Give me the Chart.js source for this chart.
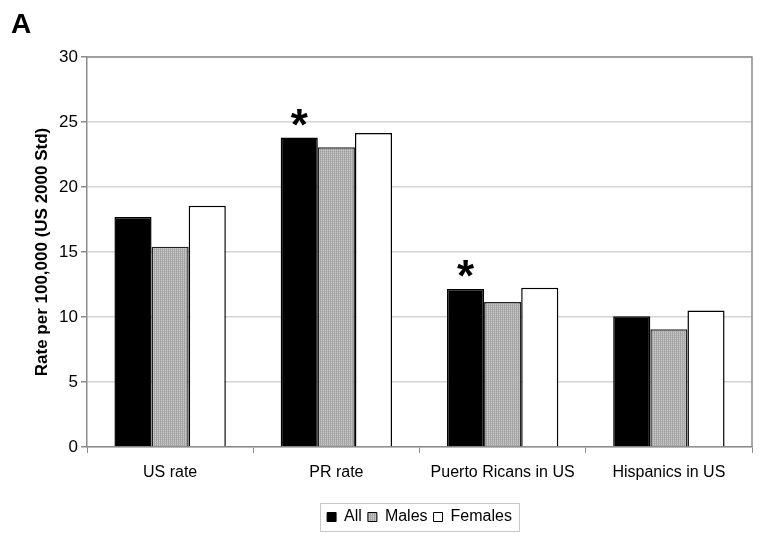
<!DOCTYPE html>
<html>
<head>
<meta charset="utf-8">
<script src="https://cdn.jsdelivr.net/npm/chart.js@4/dist/chart.umd.min.js"></script>
<style>
  html, body { margin: 0; padding: 0; background: #fff; }
  #wrap { width: 764px; height: 543px; position: relative; }
</style>
</head>
<body>
<div id="wrap"><canvas id="grafico" width="764" height="543"></canvas></div>
<script>
// dados
const categorias = ["US rate", "PR rate", "Puerto Ricans in US", "Hispanics in US"];
const taxaTodos    = [17.7, 23.8, 12.15, 10.05];
const taxaHomens   = [15.4, 23.05, 11.15, 9.05];
const taxaMulheres = [18.55, 24.15, 12.25, 10.5];
const significativo = [false, true, true, false];   // asterisco sobre "All"
const ticksY = [0, 5, 10, 15, 20, 25, 30];

const FONTE = "'Liberation Sans', Arial, sans-serif";
const COR_EIXO = "#8c8c8c";
const COR_GRADE = "#d4d4d4";

// textura cinza pontilhada das barras "Males"
function padraoCinza() {
  const c = document.createElement("canvas");
  c.width = 2; c.height = 2;
  const g = c.getContext("2d");
  g.fillStyle = "#cbcbcb"; g.fillRect(0, 0, 2, 2);
  g.fillStyle = "#a4a4a4"; g.fillRect(0, 0, 1, 2);
  g.fillStyle = "#b4b4b4"; g.fillRect(1, 1, 1, 1);
  return g.createPattern(c, "repeat");
}
const ctx = document.getElementById("grafico").getContext("2d");
const COR_HOMENS = padraoCinza();

const extras = {
  id: "extras",
  afterDraw(chart) {
    const { ctx, chartArea: a } = chart;
    ctx.save();
    // moldura superior/direita
    ctx.strokeStyle = COR_EIXO;
    ctx.lineWidth = 1.5;
    ctx.beginPath();
    ctx.moveTo(a.left, a.top);
    ctx.lineTo(a.right, a.top);
    ctx.lineTo(a.right, a.bottom);
    ctx.stroke();

    // asteriscos
    const meta = chart.getDatasetMeta(0);
    ctx.fillStyle = "#000";
    ctx.font = "bold 44px " + FONTE;
    ctx.textAlign = "center";
    ctx.textBaseline = "alphabetic";
    meta.data.forEach((bar, i) => {
      if (significativo[i]) ctx.fillText("*", bar.x, bar.y + 2);
    });

    // borda da legenda, só em volta dos itens
    const caixas = chart.legend.legendHitBoxes;
    if (caixas && caixas.length) {
      const x0 = Math.min(...caixas.map(b => b.left)) - 7;
      const x1 = Math.max(...caixas.map(b => b.left + b.width)) + 7;
      const yc = caixas[0].top + caixas[0].height / 2;
      ctx.lineWidth = 1;
      ctx.strokeStyle = "#c8c8c8";
      ctx.strokeRect(Math.round(x0) + 0.5, Math.round(yc - 14) + 0.5, Math.round(x1 - x0), 28);
    }

    // letra do painel
    ctx.font = "bold 28px " + FONTE;
    ctx.textAlign = "left";
    ctx.fillText("A", 11, 33);
    ctx.restore();
  }
};

new Chart(ctx, {
  type: "bar",
  data: {
    labels: categorias,
    datasets: [
      { label: "All", data: taxaTodos, backgroundColor: "#000", borderColor: "#000", borderWidth: 1.5 },
      { label: "Males", data: taxaHomens, backgroundColor: COR_HOMENS, borderColor: "#222", borderWidth: 1.5 },
      { label: "Females", data: taxaMulheres, backgroundColor: "#fff", borderColor: "#000", borderWidth: 1.5 }
    ]
  },
  options: {
    responsive: false,
    animation: false,
    layout: { padding: { top: 57, right: 12, left: 0, bottom: 8 } },
    datasets: { bar: { categoryPercentage: 0.67, barPercentage: 1.0 } },
    plugins: {
      tooltip: { enabled: false },
      legend: {
        position: "bottom",
        fullSize: false,
        labels: {
          font: { family: FONTE, size: 16 },
          color: "#000",
          boxWidth: 9,
          boxHeight: 9,
          padding: 6,
          generateLabels(chart) {
            return chart.data.datasets.map((d, i) => ({
              text: d.label,
              fillStyle: d.backgroundColor,
              strokeStyle: "#000",
              lineWidth: 1,
              datasetIndex: i
            }));
          }
        }
      }
    },
    scales: {
      x: {
        grid: { display: true, drawOnChartArea: false, offset: true, tickLength: 6, color: COR_EIXO },
        border: { color: COR_EIXO, width: 1.5 },
        ticks: { font: { family: FONTE, size: 16 }, color: "#000", padding: 10, maxRotation: 0 },
        afterFit: s => { s.height = 56; }
      },
      y: {
        min: 0,
        max: 30,
        afterBuildTicks: s => { s.ticks = ticksY.map(v => ({ value: v })); },
        grid: { color: COR_GRADE, lineWidth: 1.5, tickLength: 6, tickColor: COR_EIXO },
        border: { color: COR_EIXO, width: 1.5 },
        ticks: { font: { family: FONTE, size: 17 }, color: "#000", padding: 3 },
        title: {
          display: true,
          text: "Rate per 100,000 (US 2000 Std)",
          font: { family: FONTE, size: 17, weight: "bold" },
          color: "#000",
          padding: { top: 32, bottom: 0 }
        },
        afterFit: s => { s.width = 87; }
      }
    }
  },
  plugins: [extras]
});
</script>
</body>
</html>
